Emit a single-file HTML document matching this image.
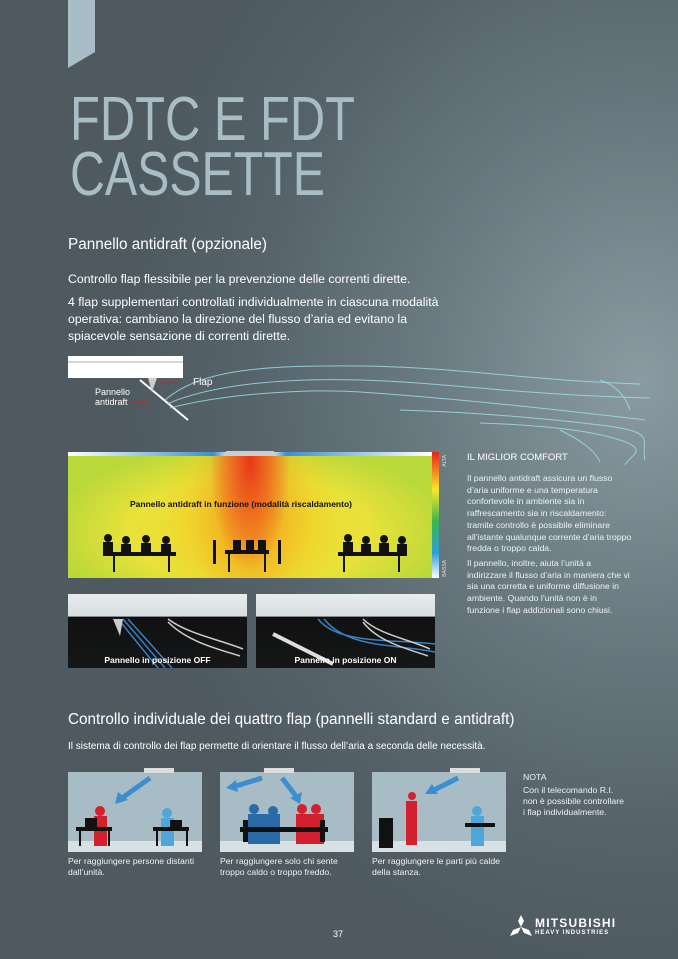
<!DOCTYPE html>
<html><head><meta charset="utf-8"><style>
*{margin:0;padding:0;box-sizing:border-box}
body{width:678px;height:959px;overflow:hidden;font-family:"Liberation Sans",sans-serif;color:#e9eef0;position:relative;
background:radial-gradient(ellipse 520px 600px at 640px 380px,#8a9ba2 0%,#6b7b82 40%,#56636a 75%,#4e5a60 100%);}
.a{position:absolute}
.t{font-size:8.7px;line-height:11.7px;color:#eef2f3}
</style></head><body>
<svg class="a" style="left:0;top:0" width="678" height="959">
<polygon points="68,0 95,0 95,52 68,68" fill="#a9bdc6"/>
<text x="70" y="140" font-size="62" fill="#a9bdc6" textLength="285" lengthAdjust="spacingAndGlyphs" font-family="Liberation Sans">FDTC E FDT</text>
<text x="70" y="195" font-size="62" fill="#a9bdc6" textLength="255" lengthAdjust="spacingAndGlyphs" font-family="Liberation Sans">CASSETTE</text>
<rect x="68" y="356" width="115" height="22" fill="#fff"/>
<line x1="68" y1="362" x2="183" y2="362" stroke="#aaa" stroke-width="1"/>
<line x1="140" y1="380" x2="188" y2="420" stroke="#fff" stroke-width="2"/>
<polygon points="148,378 157,378 152,392" fill="#ccc"/>
<line x1="120" y1="401" x2="150" y2="403" stroke="#a33" stroke-width="1"/>
<line x1="158" y1="383" x2="180" y2="383" stroke="#a33" stroke-width="1"/>
<g fill="none" stroke="#9fe3ea" stroke-width="1" opacity=".8">
<path d="M165,400 C200,370 260,365 360,366 S520,380 640,384"/>
<path d="M167,404 C210,385 280,378 360,380 S520,395 650,398"/>
<path d="M170,408 C220,395 300,388 360,392 S520,405 645,420"/>
<path d="M400,410 C470,412 540,418 600,425 S640,440 645,460"/>
<path d="M480,423 C540,425 590,430 620,440 S630,455 625,465"/>
<path d="M600,380 C615,385 625,395 630,410"/>
<path d="M560,430 C580,440 595,450 600,462"/>
</g>
<text x="193" y="385" font-size="10" fill="#fff">Flap</text>
<text x="95" y="395" font-size="9" fill="#fff">Pannello</text>
<text x="95" y="405" font-size="9" fill="#fff">antidraft</text>
</svg>

<div class="a" style="left:68px;top:236px;font-size:15.3px;color:#fff">Pannello antidraft (opzionale)</div>
<div class="a" style="left:68px;top:271px;font-size:12.3px;line-height:17px;color:#fff;width:400px">Controllo flap flessibile per la prevenzione delle correnti dirette.<div style="height:6px"></div>4 flap supplementari controllati individualmente in ciascuna modalità operativa: cambiano la direzione del flusso d’aria ed evitano la spiacevole sensazione di correnti dirette.</div>

<div class="a" style="left:68px;top:452px;width:364px;height:126px;background:
radial-gradient(ellipse 40px 110px at 182px 10px,#e8381a 0%,rgba(238,100,30,.8) 50%,rgba(240,160,30,0) 100%),
radial-gradient(ellipse 90px 140px at 182px 60px,rgba(242,150,30,.9) 0%,rgba(245,200,30,.3) 70%,rgba(245,220,40,0) 100%),
radial-gradient(ellipse 200px 90px at 182px 80px,#f3d62a 0%,#e8e23a 60%,#b9d83a 100%);"></div>
<div class="a" style="left:68px;top:452px;width:364px;height:4px;background:linear-gradient(90deg,#fff,#3a8fd0 40%,#fff 45%,#fff 55%,#3a8fd0 60%,#fff)"></div>
<div class="a" style="left:226px;top:451px;width:48px;height:5px;background:#ccc"></div>
<div class="a" style="left:432px;top:452px;width:7px;height:126px;background:linear-gradient(#e8201a,#f7e82a 30%,#3cb550 55%,#2ba0d8 80%,#fff)"></div>
<div class="a" style="left:442px;top:455px;font-size:5px;color:#ddd;writing-mode:vertical-rl;transform:rotate(180deg)">ALTA</div>
<div class="a" style="left:442px;top:560px;font-size:5px;color:#ddd;writing-mode:vertical-rl;transform:rotate(180deg)">BASSA</div>
<div class="a" style="left:130px;top:499px;font-size:8.5px;font-weight:bold;color:#111">Pannello antidraft in funzione (modalità riscaldamento)</div>
<svg class="a" style="left:68px;top:530px" width="364" height="46">
<g fill="#111">
<rect x="40" y="22" width="68" height="4"/><rect x="157" y="20" width="44" height="4"/><rect x="270" y="22" width="68" height="4"/>
<circle cx="40" cy="8" r="4"/><circle cx="58" cy="10" r="4"/><circle cx="78" cy="9" r="4"/><circle cx="98" cy="10" r="4"/>
<circle cx="280" cy="8" r="4"/><circle cx="298" cy="10" r="4"/><circle cx="316" cy="9" r="4"/><circle cx="334" cy="10" r="4"/>
<rect x="35" y="12" width="10" height="14"/><rect x="53" y="14" width="10" height="12"/><rect x="73" y="13" width="10" height="13"/><rect x="93" y="14" width="10" height="12"/>
<rect x="275" y="12" width="10" height="14"/><rect x="293" y="14" width="10" height="12"/><rect x="311" y="13" width="10" height="13"/><rect x="329" y="14" width="10" height="12"/>
<rect x="165" y="10" width="8" height="10"/><rect x="178" y="10" width="8" height="10"/><rect x="190" y="10" width="8" height="10"/>
<rect x="45" y="26" width="2" height="16"/><rect x="100" y="26" width="2" height="16"/><rect x="160" y="24" width="2" height="18"/><rect x="196" y="24" width="2" height="18"/>
<rect x="275" y="26" width="2" height="16"/><rect x="330" y="26" width="2" height="16"/>
<rect x="145" y="10" width="3" height="24"/><rect x="210" y="10" width="3" height="24"/>
</g></svg>

<div class="a" style="left:68px;top:594px;width:179px;height:74px;background:linear-gradient(#e8ecee 0,#d8dde0 30%,#111 31%,#141618 100%)"></div>
<div class="a" style="left:256px;top:594px;width:179px;height:74px;background:linear-gradient(#e8ecee 0,#d8dde0 30%,#111 31%,#141618 100%)"></div>
<svg class="a" style="left:68px;top:594px" width="367" height="74" fill="none">
<g stroke="#3c7fc0" stroke-width="1.5"><path d="M50,25 L90,74"/><path d="M55,25 L97,74"/><path d="M60,25 L104,74"/>
<path d="M250,25 C270,50 320,45 367,50"/><path d="M256,25 C280,55 330,50 367,58"/></g>
<g stroke="#ccc" stroke-width="1.5"><path d="M100,25 C120,40 150,45 175,55"/><path d="M100,28 C120,48 150,55 172,62"/>
<path d="M295,25 C310,40 340,45 362,55"/><path d="M295,28 C310,48 340,55 360,62"/><path d="M205,40 L265,70" stroke="#ddd" stroke-width="4"/></g>
<polygon points="45,25 55,25 52,42" fill="#ccc"/>
</svg>
<div class="a" style="left:68px;top:655px;width:179px;text-align:center;font-size:8.5px;font-weight:bold;color:#fff">Pannello in posizione OFF</div>
<div class="a" style="left:256px;top:655px;width:179px;text-align:center;font-size:8.5px;font-weight:bold;color:#fff">Pannello in posizione ON</div>

<div class="a t" style="left:467px;top:452px;font-size:9.5px;color:#fff">IL MIGLIOR COMFORT</div>
<div class="a t" style="left:467px;top:473px;width:165px">Il pannello antidraft assicura un flusso d’aria uniforme e una temperatura confortevole in ambiente sia in raffrescamento sia in riscaldamento: tramite controllo è possibile eliminare all’istante qualunque corrente d’aria troppo fredda o troppo calda.<div style="height:3px"></div>Il pannello, inoltre, aiuta l’unità a indirizzare il flusso d’aria in maniera che vi sia una corretta e uniforme diffusione in ambiente. Quando l’unità non è in funzione i flap addizionali sono chiusi.</div>

<div class="a" style="left:68px;top:711px;font-size:15.3px;color:#fff">Controllo individuale dei quattro flap (pannelli standard e antidraft)</div>
<div class="a" style="left:68px;top:741px;font-size:10px;color:#fff">Il sistema di controllo dei flap permette di orientare il flusso dell’aria a seconda delle necessità.</div>

<svg class="a" style="left:0;top:760px" width="678" height="100">
<g><rect x="68" y="12" width="134" height="80" fill="#a7bcc4"/><rect x="68" y="81" width="134" height="11" fill="#d7e0e3"/>
<rect x="220" y="12" width="134" height="80" fill="#a7bcc4"/><rect x="220" y="81" width="134" height="11" fill="#d7e0e3"/>
<rect x="372" y="12" width="134" height="80" fill="#a7bcc4"/><rect x="372" y="81" width="134" height="11" fill="#d7e0e3"/>
<rect x="144" y="8" width="30" height="5" fill="#ddd"/><rect x="264" y="8" width="30" height="5" fill="#ddd"/><rect x="450" y="8" width="30" height="5" fill="#ddd"/></g>
<g stroke="#3b8fd0" stroke-width="5" fill="none"><path d="M150,18 L122,38"/><path d="M262,18 L236,26"/><path d="M282,18 L296,36"/><path d="M458,18 L434,30"/></g>
<g fill="#3b8fd0"><polygon points="115,44 118,32 128,40"/><polygon points="226,28 236,20 238,32"/><polygon points="300,44 290,38 302,32"/><polygon points="425,34 432,24 438,34"/></g>
<g fill="#d2202e"><circle cx="100" cy="51" r="5"/><rect x="94" y="56" width="13" height="30"/>
<circle cx="302" cy="49" r="5"/><circle cx="316" cy="49" r="5"/><rect x="296" y="54" width="28" height="30"/>
<circle cx="412" cy="36" r="4"/><rect x="406" y="41" width="11" height="44"/></g>
<g fill="#4fa6d8"><circle cx="167" cy="53" r="5"/><rect x="161" y="58" width="13" height="28"/><circle cx="477" cy="51" r="5"/><rect x="471" y="56" width="13" height="30"/></g>
<g fill="#2a6aa8"><circle cx="254" cy="49" r="5"/><circle cx="273" cy="51" r="5"/><rect x="248" y="54" width="32" height="30"/></g>
<g fill="#111"><rect x="76" y="67" width="36" height="4"/><rect x="153" y="67" width="36" height="4"/><rect x="240" y="67" width="88" height="5"/><rect x="465" y="63" width="30" height="4"/>
<rect x="79" y="71" width="2" height="15"/><rect x="108" y="71" width="2" height="15"/><rect x="156" y="71" width="2" height="15"/><rect x="186" y="71" width="2" height="15"/>
<rect x="379" y="58" width="14" height="30"/><rect x="85" y="58" width="12" height="9"/><rect x="170" y="60" width="12" height="7"/>
<rect x="243" y="60" width="5" height="22"/><rect x="320" y="60" width="5" height="22"/></g>
</svg>
<div class="a t" style="left:68px;top:856px;width:145px;font-size:8.7px;line-height:11px">Per raggiungere persone distanti dall’unità.</div>
<div class="a t" style="left:220px;top:856px;width:135px;font-size:8.7px;line-height:11px">Per raggiungere solo chi sente troppo caldo o troppo freddo.</div>
<div class="a t" style="left:372px;top:856px;width:145px;font-size:8.7px;line-height:11px">Per raggiungere le parti più calde della stanza.</div>
<div class="a t" style="left:523px;top:772px;width:110px;font-size:8.7px;line-height:11px">NOTA<div style="height:2px"></div>Con il telecomando R.I.<br>non è possibile controllare<br>i flap individualmente.</div>

<div class="a" style="left:333px;top:929px;font-size:9px;color:#fff">37</div>
<svg class="a" style="left:510px;top:915px" width="22" height="22"><g fill="#fff"><polygon points="11,0 14,6 11,12 8,6"/><polygon points="0,21 3,15 11,12 8,18"/><polygon points="22,21 19,15 11,12 14,18"/></g></svg>
<div class="a" style="left:535px;top:916px;font-size:12px;font-weight:bold;color:#fff;letter-spacing:1.2px">MITSUBISHI</div>
<div class="a" style="left:535px;top:930px;font-size:6px;font-weight:bold;color:#fff;letter-spacing:1px">HEAVY INDUSTRIES</div>
</body></html>
